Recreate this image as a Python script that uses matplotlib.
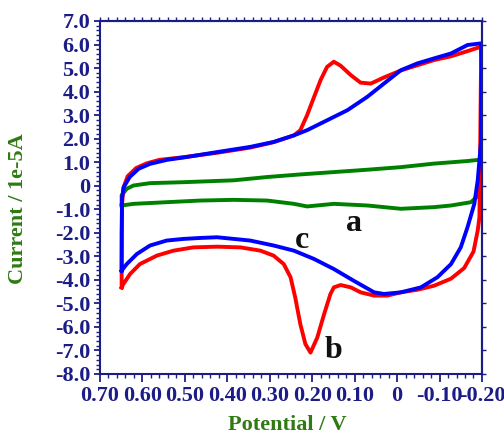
import matplotlib
matplotlib.use("Agg")
import matplotlib.pyplot as plt
from matplotlib.ticker import MultipleLocator, FixedLocator, FixedFormatter

# curve a (green)
pot_a = [0.649, 0.649, 0.637, 0.621, 0.582, 0.503, 0.385, 0.306, 0.228, 0.149, 0.070,
         -0.009, -0.087, -0.166, -0.198, -0.196, -0.174, -0.127, -0.087, -0.009, 0.070,
         0.149, 0.212, 0.243, 0.306, 0.385, 0.464, 0.543, 0.621, 0.649]
cur_a = [-0.84, -0.41, -0.13, 0.01, 0.11, 0.15, 0.23, 0.37, 0.48, 0.58, 0.68,
         0.79, 0.94, 1.05, 1.11, -0.34, -0.70, -0.84, -0.91, -0.98, -0.84,
         -0.77, -0.88, -0.77, -0.63, -0.60, -0.63, -0.70, -0.77, -0.84]

# curve b (red)
pot_b = [0.649, 0.649, 0.648, 0.645, 0.635, 0.615, 0.590, 0.560, 0.500, 0.424, 0.346,
         0.291, 0.243, 0.228, 0.212, 0.195, 0.180, 0.165, 0.149, 0.133, 0.109, 0.086,
         0.062, 0.031, -0.009, -0.048, -0.087, -0.127, -0.166, -0.198, -0.198, -0.196,
         -0.194, -0.190, -0.180, -0.158, -0.127, -0.087, -0.048, -0.009, 0.023, 0.054,
         0.086, 0.109, 0.133, 0.149, 0.157, 0.172, 0.188, 0.204, 0.216, 0.228, 0.240,
         0.251, 0.267, 0.291, 0.322, 0.369, 0.424, 0.480, 0.527, 0.566, 0.606, 0.629,
         0.645, 0.649]
cur_b = [-4.32, -3.50, -0.80, -0.10, 0.40, 0.75, 0.95, 1.10, 1.22, 1.40, 1.62,
         1.85, 2.14, 2.36, 3.00, 3.80, 4.50, 5.05, 5.27, 5.10, 4.70, 4.38,
         4.34, 4.60, 4.90, 5.12, 5.34, 5.50, 5.72, 5.91, 5.50, 2.00,
         -1.34, -1.90, -2.80, -3.50, -3.95, -4.25, -4.42, -4.53, -4.67, -4.67,
         -4.53, -4.32, -4.22, -4.32, -4.60, -5.46, -6.45, -7.09, -6.73, -5.88, -4.75,
         -3.89, -3.33, -2.97, -2.76, -2.62, -2.59, -2.62, -2.76, -2.97, -3.33, -3.75,
         -4.18, -4.32]

# curve c (blue)
pot_c = [0.649, 0.649, 0.648, 0.644, 0.630, 0.609, 0.582, 0.542, 0.503, 0.424, 0.346,
         0.291, 0.243, 0.212, 0.165, 0.117, 0.070, 0.031, -0.009, -0.048, -0.087,
         -0.127, -0.166, -0.198, -0.199, -0.198, -0.190, -0.182, -0.166, -0.150, -0.127,
         -0.095, -0.056, -0.009, 0.031, 0.054, 0.102, 0.149, 0.196, 0.243, 0.291,
         0.346, 0.424, 0.464, 0.503, 0.543, 0.582, 0.613, 0.637, 0.649]
cur_c = [-3.61, -2.00, -0.50, -0.06, 0.37, 0.72, 0.93, 1.10, 1.20, 1.43, 1.65,
         1.86, 2.14, 2.36, 2.78, 3.21, 3.78, 4.34, 4.91, 5.20, 5.41,
         5.62, 5.98, 6.05, 5.00, 1.93, 0.23, -0.77, -1.76, -2.62, -3.33,
         -3.89, -4.32, -4.53, -4.60, -4.53, -4.04, -3.54, -3.11, -2.76, -2.54,
         -2.33, -2.19, -2.22, -2.26, -2.33, -2.54, -2.90, -3.33, -3.61]

x_ticks = [0.7, 0.6, 0.5, 0.4, 0.3, 0.2, 0.1, 0.0, -0.1, -0.2]
x_labels = ["0.70", "0.60", "0.50", "0.40", "0.30", "0.20", "0.10", "0", "-0.10", "-0.20"]
y_ticks = [7, 6, 5, 4, 3, 2, 1, 0, -1, -2, -3, -4, -5, -6, -7, -8]
y_labels = ["7.0", "6.0", "5.0", "4.0", "3.0", "2.0", "1.0", "0", "-1.0", "-2.0",
            "-3.0", "-4.0", "-5.0", "-6.0", "-7.0", "-8.0"]

navy = "#1c1c86"
lab_col = "#2f7a12"
plt.rcParams['font.family'] = ['Liberation Serif', 'DejaVu Serif']

fig = plt.figure(figsize=(5.04, 4.43), dpi=100)
ax = fig.add_axes([0.1984, 0.1558, 0.7579, 0.7968])

ax.plot(pot_a, cur_a, color="#008000", lw=2.8, solid_joinstyle="round")
ax.plot(pot_b, cur_b, color="#ff0000", lw=2.8, solid_joinstyle="round")
ax.plot(pot_c, cur_c, color="#0000ff", lw=2.8, solid_joinstyle="round")

ax.text(0.102, -1.61, "a", fontsize=23, fontweight="bold", color="#111111", ha="center", va="center")
ax.text(0.223, -2.33, "c", fontsize=23, fontweight="bold", color="#111111", ha="center", va="center")
ax.text(0.150, -7.0, "b", fontsize=23, fontweight="bold", color="#111111", ha="center", va="center")

ax.set_xlim(0.7, -0.2)
ax.set_ylim(-8, 7)

ax.xaxis.set_major_locator(FixedLocator(x_ticks))
ax.xaxis.set_major_formatter(FixedFormatter(x_labels))
ax.xaxis.set_minor_locator(MultipleLocator(0.02))
ax.yaxis.set_major_locator(FixedLocator(y_ticks))
ax.yaxis.set_major_formatter(FixedFormatter(y_labels))
ax.yaxis.set_minor_locator(MultipleLocator(0.2))

ax.tick_params(which="major", direction="out", length=6, width=1.3, color=navy,
               labelsize=16, labelcolor=navy, pad=3)
ax.tick_params(which="minor", direction="out", length=3, width=1.0, color=navy)
ax.tick_params(axis="y", which="major", length=4)
for lbl in ax.get_xticklabels() + ax.get_yticklabels():
    lbl.set_fontweight("bold")

top = ax.secondary_xaxis("top")
top.xaxis.set_major_locator(MultipleLocator(0.02))
top.tick_params(direction="out", length=3, width=1.0, color=navy, labeltop=False)
top.spines["top"].set_color(navy)
top.spines["top"].set_linewidth(1.5)

right = ax.secondary_yaxis("right")
right.yaxis.set_major_locator(MultipleLocator(1.0))
right.tick_params(direction="out", length=3, width=1.0, color=navy, labelright=False)
right.spines["right"].set_color(navy)
right.spines["right"].set_linewidth(1.5)

for s in ax.spines.values():
    s.set_color(navy)
    s.set_linewidth(1.5)

fig.text(0.570, 0.018, "Potential / V", fontsize=16, fontweight="bold", color=lab_col,
         ha="center", va="bottom")
fig.text(0.035, 0.53, "Current / 1e-5A", fontsize=16, fontweight="bold", color=lab_col,
         ha="center", va="center", rotation=90)

fig.savefig("out.png", dpi=100)
